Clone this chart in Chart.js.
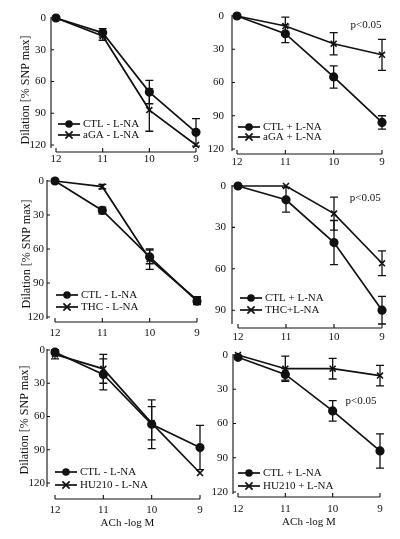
<!DOCTYPE html>
<html>
<head>
<meta charset="utf-8">
<script src="https://cdn.jsdelivr.net/npm/chart.js@4.4.0/dist/chart.umd.min.js"></script>
<style>
  html, body { margin: 0; padding: 0; background: #fff; }
  #wrap { position: relative; width: 400px; height: 539px; }
  #wrap canvas { position: absolute; left: 0; top: 0; }
</style>
</head>
<body>
<div id="wrap">
  <canvas id="p1" width="400" height="539"></canvas>
  <canvas id="p2" width="400" height="539"></canvas>
  <canvas id="p3" width="400" height="539"></canvas>
  <canvas id="p4" width="400" height="539"></canvas>
  <canvas id="p5" width="400" height="539"></canvas>
  <canvas id="p6" width="400" height="539"></canvas>
</div>
<script>
// ACh concentration (-log M)
const doses = [12, 11, 10, 9];
const xTicks = [12, 11, 10, 9];
const yTicks = [0, 30, 60, 90, 120];
const yTicksShort = [0, 30, 60, 90];

// dilation, % of SNP max (mean / error)
const ctlA = [0, 14, 70, 108];
const ctlAErr = [0, 4, 11, 13];
const agaA = [0, 17, 87, 120];
const agaAErr = [0, 4, 20, 0];

const ctlB = [0, 16, 55, 96];
const ctlBErr = [0, 8, 10, 6];
const agaB = [0, 9, 25, 35];
const agaBErr = [0, 8, 10, 14];

const ctlC = [0, 26, 67, 106];
const ctlCErr = [0, 3, 6, 3];
const thcC = [0, 5, 69, 105];
const thcCErr = [0, 2, 9, 3];

const ctlD = [0, 10, 41, 90];
const ctlDErr = [0, 9, 16, 10];
const thcD = [0, 0, 20, 56];
const thcDErr = [0, 0, 12, 9];

const ctlE = [2, 22, 67, 88];
const ctlEErr = [2, 14, 22, 20];
const huE = [4, 17, 66, 111];
const huEErr = [4, 13, 15, 0];

const ctlF = [2, 17, 49, 84];
const ctlFErr = [1, 5, 9, 15];
const huF = [0, 12, 12, 18];
const huFErr = [0, 11, 9, 9];

const INK = '#111';
const FONT = 'Liberation Serif';

const panels = [
  { id: 'p1', series: [ctlA, agaA], errs: [ctlAErr, agaAErr], labels: ['CTL - L-NA', 'aGA - L-NA'],
    area: { l: 56, r: 196, t: 18, b: 145 }, yMax: 120, yTicks: yTicks,
    yAxisX: 51, yAxisEnd: 148, xAxisY: 152, yLabelRight: 46, xLabelY: 159,
    legend: { x: 58, y: 124, gap: 11 }, yTitle: { x: 26, y: 90 } },
  { id: 'p2', series: [ctlB, agaB], errs: [ctlBErr, agaBErr], labels: ['CTL + L-NA', 'aGA + L-NA'],
    area: { l: 237, r: 382, t: 16, b: 149 }, yMax: 120, yTicks: yTicks,
    yAxisX: 232, yAxisEnd: 151, xAxisY: 154, yLabelRight: 224, xLabelY: 162,
    legend: { x: 238, y: 127, gap: 10 }, note: { x: 9.33, y: 8 } },
  { id: 'p3', series: [ctlC, thcC], errs: [ctlCErr, thcCErr], labels: ['CTL - L-NA', 'THC - L-NA'],
    area: { l: 55, r: 197, t: 181, b: 317 }, yMax: 120, yTicks: yTicks,
    yAxisX: 47, yAxisEnd: 319, xAxisY: 322, yLabelRight: 44, xLabelY: 333,
    legend: { x: 56, y: 295, gap: 12 }, yTitle: { x: 27, y: 254 } },
  { id: 'p4', series: [ctlD, thcD], errs: [ctlDErr, thcDErr], labels: ['CTL + L-NA', 'THC+L-NA'],
    area: { l: 238, r: 382, t: 186, b: 324 }, yMax: 100, yTicks: yTicksShort,
    yAxisX: 232, yAxisEnd: 324, xAxisY: 328, yLabelRight: 226, xLabelY: 337,
    legend: { x: 240, y: 298, gap: 12 }, note: { x: 9.35, y: 8.7 } },
  { id: 'p5', series: [ctlE, huE], errs: [ctlEErr, huEErr], labels: ['CTL - L-NA', 'HU210 - L-NA'],
    area: { l: 55, r: 200, t: 350, b: 483 }, yMax: 120, yTicks: yTicks,
    yAxisX: 47, yAxisEnd: 487, xAxisY: 499, yLabelRight: 45, xLabelY: 510,
    legend: { x: 55, y: 472, gap: 13 }, yTitle: { x: 25, y: 420 }, xTitleY: 523 },
  { id: 'p6', series: [ctlF, huF], errs: [ctlFErr, huFErr], labels: ['CTL + L-NA', 'HU210 + L-NA'],
    area: { l: 238, r: 380, t: 355, b: 492 }, yMax: 120, yTicks: yTicks,
    yAxisX: 233, yAxisEnd: 494, xAxisY: 497, yLabelRight: 228, xLabelY: 509,
    legend: { x: 238, y: 473, gap: 13 }, note: { x: 9.4, y: 40 }, xTitleY: 522 }
];

function drawMarker(ctx, style, x, y) {
  ctx.beginPath();
  if (style === 'circle') {
    ctx.arc(x, y, 3.8, 0, Math.PI * 2);
    ctx.fill();
  } else {
    const r = 3.6;
    ctx.moveTo(x - r, y - r); ctx.lineTo(x + r, y + r);
    ctx.moveTo(x - r, y + r); ctx.lineTo(x + r, y - r);
    ctx.stroke();
  }
}

// axes (detached, old-style), error bars, legend, notes
const figurePlugin = {
  id: 'figure',
  beforeDatasetsDraw(chart) {
    const p = chart.options.plugins.figure.panel;
    const xs = chart.scales.x, ys = chart.scales.y;
    const ctx = chart.ctx;
    ctx.save();
    ctx.strokeStyle = INK;
    ctx.lineWidth = 1.1;
    // y axis
    ctx.beginPath();
    ctx.moveTo(p.yAxisX, ys.getPixelForValue(0) - 1);
    ctx.lineTo(p.yAxisX, p.yAxisEnd);
    p.yTicks.forEach(v => {
      const y = ys.getPixelForValue(v);
      ctx.moveTo(p.yAxisX, y); ctx.lineTo(p.yAxisX + 3, y);
    });
    // x axis
    ctx.moveTo(xs.getPixelForValue(12), p.xAxisY);
    ctx.lineTo(xs.getPixelForValue(9), p.xAxisY);
    xTicks.forEach(v => {
      const x = xs.getPixelForValue(v);
      ctx.moveTo(x, p.xAxisY); ctx.lineTo(x, p.xAxisY - 4);
    });
    ctx.stroke();
    // error bars
    ctx.lineWidth = 1.3;
    chart.data.datasets.forEach(ds => {
      ds.data.forEach((pt, i) => {
        const e = ds.errors[i];
        if (!e) return;
        const x = xs.getPixelForValue(pt.x);
        const y1 = ys.getPixelForValue(pt.y - e);
        const y2 = ys.getPixelForValue(pt.y + e);
        ctx.beginPath();
        ctx.moveTo(x, y1); ctx.lineTo(x, y2);
        ctx.moveTo(x - 4, y1); ctx.lineTo(x + 4, y1);
        ctx.moveTo(x - 4, y2); ctx.lineTo(x + 4, y2);
        ctx.stroke();
      });
    });
    ctx.restore();
  },
  afterDatasetsDraw(chart) {
    const p = chart.options.plugins.figure.panel;
    const xs = chart.scales.x, ys = chart.scales.y;
    const ctx = chart.ctx;
    ctx.save();
    ctx.fillStyle = INK;
    ctx.strokeStyle = INK;
    ctx.font = '11px "' + FONT + '"';
    ctx.textBaseline = 'middle';
    // legend
    chart.data.datasets.forEach((ds, i) => {
      const y = p.legend.y + i * p.legend.gap;
      ctx.lineWidth = 1.7;
      ctx.beginPath();
      ctx.moveTo(p.legend.x, y); ctx.lineTo(p.legend.x + 22, y);
      ctx.stroke();
      drawMarker(ctx, ds.pointStyle, p.legend.x + 11, y);
      ctx.textAlign = 'left';
      ctx.fillText(ds.label, p.legend.x + 25, y);
    });
    if (p.note) {
      ctx.textAlign = 'center';
      ctx.fillText('p<0.05', xs.getPixelForValue(p.note.x), ys.getPixelForValue(p.note.y));
    }
    if (p.yTitle) {
      ctx.translate(p.yTitle.x, p.yTitle.y);
      ctx.rotate(-Math.PI / 2);
      ctx.textAlign = 'center';
      ctx.font = '12px "' + FONT + '"';
      ctx.fillText('Dilation [% SNP max]', 0, 0);
    }
    ctx.restore();
  }
};

function makeChart(p) {
  const lh = 11 * 1.2;
  const styles = ['circle', 'crossRot'];
  const datasets = p.series.map((vals, k) => ({
    label: p.labels[k],
    data: doses.map((d, i) => ({ x: d, y: vals[i] })),
    errors: p.errs[k],
    borderColor: INK,
    backgroundColor: INK,
    borderWidth: 1.7,
    pointStyle: styles[k],
    pointRadius: k === 0 ? 3.8 : 4.2,
    pointBorderWidth: 1.6,
    pointBorderColor: INK,
    pointBackgroundColor: INK,
    tension: 0,
    clip: false
  }));

  new Chart(document.getElementById(p.id), {
    type: 'line',
    data: { datasets: datasets },
    options: {
      responsive: false,
      animation: false,
      events: [],
      layout: { padding: { left: 0, right: 400 - p.area.r, top: p.area.t, bottom: 0 } },
      plugins: {
        legend: { display: false },
        tooltip: { enabled: false },
        figure: { panel: p }
      },
      scales: {
        x: {
          type: 'linear', reverse: true, min: 9, max: 12,
          grid: { display: false, drawTicks: false },
          border: { display: false },
          afterBuildTicks: s => { s.ticks = xTicks.map(v => ({ value: v })); },
          afterFit: s => { s.height = 539 - p.area.b; s.paddingLeft = 0; s.paddingRight = 0; },
          ticks: {
            padding: p.xLabelY - p.area.b - lh / 2,
            autoSkip: false, maxRotation: 0,
            color: INK, font: { family: FONT, size: 11 }
          },
          title: {
            display: !!p.xTitleY,
            text: 'ACh -log M',
            color: INK,
            font: { family: FONT, size: 11 },
            padding: { top: 0, bottom: p.xTitleY ? 539 - p.xTitleY - lh / 2 : 0 }
          }
        },
        y: {
          type: 'linear', reverse: true, min: 0, max: p.yMax,
          grid: { display: false, drawTicks: false },
          border: { display: false },
          afterBuildTicks: s => { s.ticks = p.yTicks.map(v => ({ value: v })); },
          afterFit: s => { s.width = p.area.l; s.paddingTop = 0; s.paddingBottom = 0; },
          ticks: {
            padding: p.area.l - p.yLabelRight,
            color: INK, font: { family: FONT, size: 11 }
          }
        }
      }
    },
    plugins: [figurePlugin]
  });
}

panels.forEach(makeChart);
</script>
</body>
</html>
